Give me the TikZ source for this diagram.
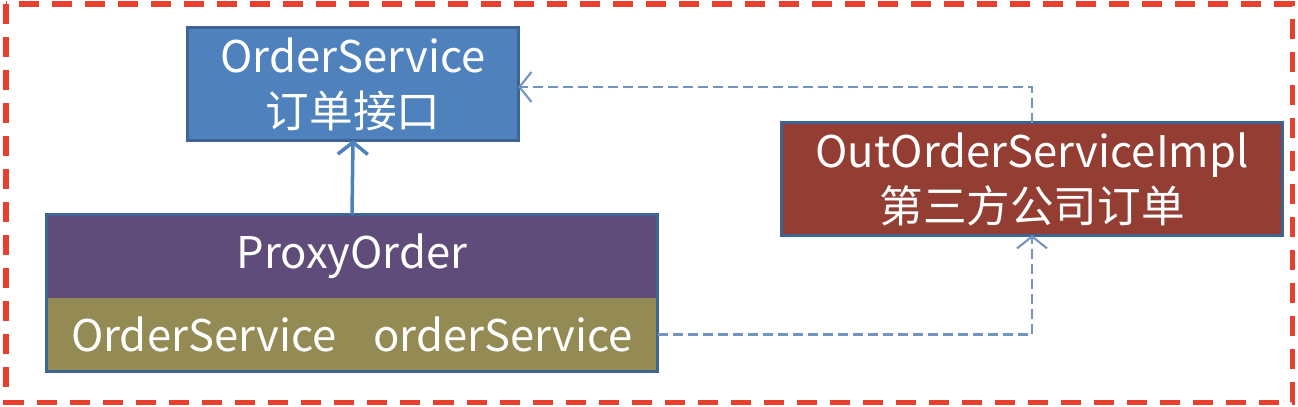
\documentclass[tikz,border=0pt]{standalone}
\usepackage{fontspec}
\setmainfont{Noto Sans CJK SC}
\usepackage{tikz}
\definecolor{ifaceblue}{HTML}{4F81BD}
\definecolor{edgeblue}{HTML}{3E6494}
\definecolor{implred}{HTML}{943D32}
\definecolor{proxypurple}{HTML}{5F4C7A}
\definecolor{fieldolive}{HTML}{948A54}
\definecolor{framered}{HTML}{E8402F}
\definecolor{linkblue}{HTML}{7393C2}
\usetikzlibrary{arrows.meta}
\usetikzlibrary{positioning}

\begin{document}
\begin{tikzpicture}[x=0.01cm,y=-0.01cm,
    box/.style={draw=edgeblue,line width=0.03cm,text=white,align=center,inner sep=0pt,
        outer sep=0pt,font=\fontsize{12.4}{15.6}\selectfont},
    link/.style={draw=linkblue,line width=0.6pt,-{Straight Barb[length=0.12cm,width=0.3cm]}},
    dashlink/.style={link,dash pattern=on 0.1cm off 0.05cm}
]
\useasboundingbox (0,0) rectangle (1298,406);
\draw[framered,line width=0.05cm,dash pattern=on 0.2cm off 0.13cm] (6,4) rectangle (1292,402);

\node[box,fill=ifaceblue,minimum width=3.3cm,minimum height=1.12cm] (iface) at (353,84)
    {OrderService\\订单接口};
\node[box,fill=implred,minimum width=5.01cm,minimum height=1.12cm] (impl) at (1032,179)
    {OutOrderServiceImpl\\第三方公司订单};
\node[box,draw=none,fill=proxypurple,minimum width=6.11cm,minimum height=0.83cm] (proxy) at (352,256)
    {ProxyOrder};
\node[box,draw=none,fill=fieldolive,minimum width=6.11cm,minimum height=0.74cm,below=0pt of proxy] (field)
    {OrderService\hspace{0.37cm}orderService};
\draw[edgeblue,line width=0.03cm] (proxy.north west) rectangle (field.south east);

\coordinate (upcorner) at (impl.north |- 0,87);
\coordinate (downcorner) at (impl.south |- field.east);

\draw[link,draw=ifaceblue,line width=1pt] (proxy.north) -- (iface.south);
\draw[dashlink] (impl.north) -- (upcorner) -- (iface.east |- upcorner);
\draw[dashlink] (field.east) -- (downcorner) -- (impl.south);
\end{tikzpicture}
\end{document}
